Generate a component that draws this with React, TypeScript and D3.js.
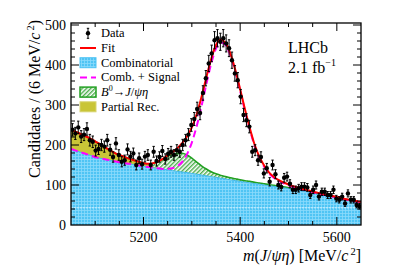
import React from 'react';
import * as d3 from 'd3';

// ---------- data ----------
// fit-component samples every 10 MeV from 5050 to 5650
const fitMass = d3.range(5050, 5651, 10);
const combinatorial = [
  190, 186, 182, 178, 174, 170, 167, 164.5, 162, 159.5,
  157, 155, 153, 151, 149, 147, 145, 143, 141.5, 139.5,
  138, 136, 134, 132.5, 131, 129, 127, 125, 123, 121,
  119, 117, 115, 113, 111, 109, 107, 105.5, 103.5, 102,
  100, 98, 96.5, 94.5, 93, 91, 89, 87, 84.5, 82.5,
  80, 77.5, 75, 73, 70.5, 68, 65.5, 63, 61, 58.5,
  56,
];
const partialRec = [
  48, 47, 45.5, 44, 42, 39, 35, 30, 25, 21,
  18, 15.5, 13, 11, 9, 7, 5, 3.5, 2, 1,
  0.4, 0.1, 0, 0, 0, 0, 0, 0, 0, 0,
  0, 0, 0, 0, 0, 0, 0, 0, 0, 0,
  0, 0, 0, 0, 0, 0, 0, 0, 0, 0,
  0, 0, 0, 0, 0, 0, 0, 0, 0, 0,
  0,
];
const bToJpsiEta = [
  0, 0, 0, 0, 0, 0, 0, 0, 0, 0,
  0, 0, 0, 0, 0.3, 1, 3, 8, 15, 24,
  33, 40, 45, 47, 44, 38, 30, 23, 17, 12,
  9, 7, 6, 5, 4.5, 4, 3.8, 3.5, 3.2, 3,
  2.9, 2.8, 2.6, 2.5, 2.4, 2.2, 2.1, 2, 1.9, 1.8,
  1.7, 1.6, 1.5, 1.4, 1.3, 1.2, 1.2, 1.1, 1.1, 1,
  1,
];
const signal = [
  0, 0, 0, 0, 0, 0, 0, 0, 0, 0,
  0, 0, 0, 0, 0, 0, 0, 0, 0.3, 0.8,
  2.7, 6, 13, 25, 46, 77, 120, 172, 229, 282,
  322, 339, 334, 310, 272, 226, 178, 133, 94, 65,
  45, 30, 21, 15, 11, 8, 6, 4.5, 3.5, 2.7,
  2, 1.6, 1.3, 1, 0.8, 0.6, 0.5, 0.4, 0.3, 0.3,
  0.2,
];

// data: 100 bins of 6 MeV
const binCenters = d3.range(5053, 5650, 6);
const dataCounts = [
  238, 229, 244, 221, 226, 240, 212, 208, 186, 190,
  200, 196, 212, 188, 170, 204, 175, 158, 162, 189,
  171, 179, 150, 167, 152, 171, 175, 150, 183, 160,
  170, 185, 165, 178, 183, 175, 187, 183, 200, 212,
  226, 250, 265, 290, 280, 330, 367, 404, 429, 462,
  467, 458, 467, 454, 442, 412, 379, 362, 321, 275,
  262, 246, 183, 187, 162, 170, 129, 142, 108, 150,
  127, 100, 95, 118, 121, 103, 88, 88, 92, 96,
  96, 94, 75, 88, 100, 71, 83, 83, 75, 75,
  88, 66, 63, 71, 54, 79, 63, 63, 50, 47,
];

const xMajorTicks = [5200, 5400, 5600];
const yMajorTicks = [0, 100, 200, 300, 400, 500];

// ---------- layout ----------
const W = 399;
const H = 274;
const L = 71;
const R = 361;
const T = 23;
const B = 225;
const FONT = '"Liberation Serif", "Times New Roman", serif';

export default function App() {
  const x = d3.scaleLinear().domain([5050, 5650]).range([L, R]);
  const y = d3.scaleLinear().domain([0, 505]).range([B, T]);

  const pts = fitMass.map((m, i) => {
    const c = combinatorial[i];
    const p = c + partialRec[i];
    const g = p + bToJpsiEta[i];
    return { m, c, p, g, cs: c + signal[i], tot: g + signal[i] };
  });

  const curve = d3.curveMonotoneX;
  const area = (lo: (d: any) => number, hi: (d: any) => number) =>
    d3.area<any>().x((d) => x(d.m)).y0((d) => y(lo(d))).y1((d) => y(hi(d))).curve(curve)(pts) || '';
  const line = (f: (d: any) => number) =>
    d3.line<any>().x((d) => x(d.m)).y((d) => y(f(d))).curve(curve)(pts) || '';

  const combArea = area(() => 0, (d) => d.c);
  const partArea = area((d) => d.c, (d) => d.p);
  const greenArea = area((d) => d.p, (d) => d.g);

  const xMinor = d3.range(5100, 5650, 50);
  const yMinor = d3.range(20, 505, 20);

  const legendRows = [
    { key: 'data', label: 'Data' },
    { key: 'fit', label: 'Fit' },
    { key: 'comb', label: 'Combinatorial' },
    { key: 'cs', label: 'Comb. + Signal' },
    { key: 'b0', label: '' },
    { key: 'pr', label: 'Partial Rec.' },
  ];

  return (
    <svg width={W} height={H} style={{ position: 'absolute', left: 0, top: 0, background: '#fff' }} fontFamily={FONT}>
      <defs>
        <pattern id="combPat" width="3" height="3" patternUnits="userSpaceOnUse">
          <rect width="3" height="3" fill="#4fc4f4" />
          <path d="M0 0.5H3M0.5 0V3" stroke="#8cdbfb" strokeWidth="0.8" />
        </pattern>
        <pattern id="hatchPat" width="3" height="3" patternUnits="userSpaceOnUse" patternTransform="rotate(45)">
          <rect width="3" height="3" fill="#ffffff" />
          <line x1="0.75" y1="0" x2="0.75" y2="3" stroke="#3aa53a" strokeWidth="1.3" />
        </pattern>
        <clipPath id="plotClip">
          <rect x={L} y={T} width={R - L} height={B - T} />
        </clipPath>
      </defs>

      <g clipPath="url(#plotClip)">
        <path d={combArea} fill="url(#combPat)" />
        <line x1={L} x2={R} y1={y(43)} y2={y(43)} stroke="#c8efff" strokeWidth={1} strokeDasharray="2,1" />
        <path d={partArea} fill="#c9c537" />
        <path d={greenArea} fill="url(#hatchPat)" />
        <path d={line((d) => d.g)} fill="none" stroke="#22a022" strokeWidth={1.6} />
        <path d={line((d) => d.c)} fill="none" stroke="#40b8ee" strokeWidth={1} />
        <path d={line((d) => d.cs)} fill="none" stroke="#ff00ff" strokeWidth={2} strokeDasharray="7,4" />
        <path d={line((d) => d.tot)} fill="none" stroke="#ff0000" strokeWidth={2} />
        {binCenters.map((m, i) => {
          const v = dataCounts[i];
          const e = Math.sqrt(v);
          const cx = x(m);
          return (
            <g key={i}>
              <line x1={cx} x2={cx} y1={y(v - e)} y2={y(v + e)} stroke="#000" strokeWidth={1} />
              <line x1={cx - 1.2} x2={cx + 1.2} y1={y(v - e)} y2={y(v - e)} stroke="#000" strokeWidth={1} />
              <line x1={cx - 1.2} x2={cx + 1.2} y1={y(v + e)} y2={y(v + e)} stroke="#000" strokeWidth={1} />
              <circle cx={cx} cy={y(v)} r={2.2} fill="#000" />
            </g>
          );
        })}
      </g>

      {/* frame */}
      <rect x={L} y={T} width={R - L} height={B - T} fill="none" stroke="#000" strokeWidth={1.3} />
      {/* x ticks */}
      {xMinor.map((m) => {
        const major = xMajorTicks.includes(m);
        const len = major ? 8 : 4;
        return (
          <g key={'xt' + m}>
            <line x1={x(m)} x2={x(m)} y1={B} y2={B - len} stroke="#000" strokeWidth={1} />
            <line x1={x(m)} x2={x(m)} y1={T} y2={T + len} stroke="#000" strokeWidth={1} />
          </g>
        );
      })}
      {xMajorTicks.map((m) => (
        <text key={'xl' + m} x={x(m)} y={242} fontSize={14} textAnchor="middle">{m}</text>
      ))}
      {/* y ticks */}
      {yMinor.map((v) => {
        const major = v % 100 === 0;
        const len = major ? 8 : 4;
        return (
          <g key={'yt' + v}>
            <line x1={L} x2={L + len} y1={y(v)} y2={y(v)} stroke="#000" strokeWidth={1} />
            <line x1={R} x2={R - len} y1={y(v)} y2={y(v)} stroke="#000" strokeWidth={1} />
          </g>
        );
      })}
      {yMajorTicks.map((v) => (
        <text key={'yl' + v} x={66} y={y(v) + 4.8} fontSize={14} textAnchor="end">{v}</text>
      ))}

      {/* axis titles */}
      <text x={R} y={261} fontSize={16} textAnchor="end">
        <tspan fontStyle="italic">m</tspan>(<tspan fontStyle="italic">J</tspan>/<tspan fontStyle="italic">ψη</tspan>) [MeV/<tspan fontStyle="italic">c</tspan>
        <tspan dx={2} dy={-6} fontSize={10.5}>2</tspan>
        <tspan dy={6}>]</tspan>
      </text>
      <text transform={`translate(40,${T - 3}) rotate(-90)`} fontSize={16} textAnchor="end">
        Candidates / (6 MeV/<tspan fontStyle="italic">c</tspan>
        <tspan dx={2} dy={-6} fontSize={10.5}>2</tspan>
        <tspan dy={6}>)</tspan>
      </text>

      {/* LHCb label */}
      <text x={288} y={53} fontSize={16}>LHCb</text>
      <text x={288} y={73} fontSize={16}>
        2.1 fb<tspan dy={-7} fontSize={10}>−1</tspan>
      </text>

      {/* legend */}
      {legendRows.map((r, i) => {
        const cy = 33.3 + i * 14.7;
        const mx = 88;
        let sym: React.ReactNode = null;
        if (r.key === 'data') {
          sym = (
            <g>
              <line x1={mx} x2={mx} y1={cy - 5} y2={cy + 5} stroke="#000" />
              <line x1={mx - 1.2} x2={mx + 1.2} y1={cy - 5} y2={cy - 5} stroke="#000" />
              <line x1={mx - 1.2} x2={mx + 1.2} y1={cy + 5} y2={cy + 5} stroke="#000" />
              <circle cx={mx} cy={cy} r={2.2} fill="#000" />
            </g>
          );
        } else if (r.key === 'fit') {
          sym = <line x1={80} x2={96} y1={cy} y2={cy} stroke="#ff0000" strokeWidth={2} />;
        } else if (r.key === 'comb') {
          sym = <rect x={80} y={cy - 5} width={16} height={10} fill="url(#combPat)" stroke="#4fc4f4" />;
        } else if (r.key === 'cs') {
          sym = <line x1={80} x2={96} y1={cy} y2={cy} stroke="#ff00ff" strokeWidth={2} strokeDasharray="7,4" />;
        } else if (r.key === 'b0') {
          sym = <rect x={80} y={cy - 5} width={16} height={10} fill="url(#hatchPat)" stroke="#22a022" strokeWidth={1.5} />;
        } else if (r.key === 'pr') {
          sym = <rect x={80} y={cy - 5} width={16} height={10} fill="#c9c537" stroke="#d8d470" />;
        }
        return (
          <g key={r.key}>
            {sym}
            {r.key === 'b0' ? (
              <text x={101} y={cy + 4} fontSize={12.5}>
                <tspan fontStyle="italic">B</tspan>
                <tspan dy={-5} fontSize={8}>0</tspan>
                <tspan dy={5}>→</tspan>
                <tspan fontStyle="italic">J</tspan>/<tspan fontStyle="italic">ψη</tspan>
              </text>
            ) : (
              <text x={101} y={cy + 4} fontSize={12.5}>{r.label}</text>
            )}
          </g>
        );
      })}
    </svg>
  );
}
